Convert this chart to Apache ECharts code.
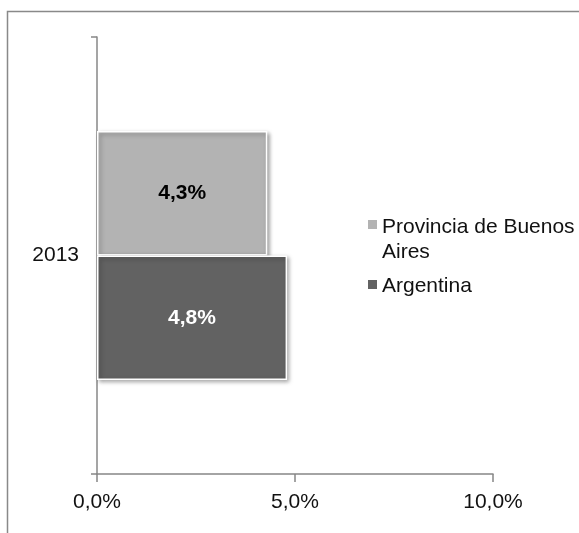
<!DOCTYPE html>
<html>
<head>
<meta charset="utf-8">
<title>2013</title>
<script src="https://cdn.jsdelivr.net/npm/echarts@6/dist/echarts.min.js"></script>
<style>
  html, body { margin: 0; padding: 0; background: #fff; }
  #chart { width: 579px; height: 533px; }
</style>
</head>
<body>
<div id="chart"></div>
<script>
  // datos (en %)
  const categories = ['2013'];
  const seriesNames = ['Provincia de Buenos Aires', 'Argentina'];
  const provinciaValues = [4.3];
  const argentinaValues = [4.8];
  const axisMin = 0;
  const axisMax = 10;
  const axisStep = 5;

  const fontFamily = '"Liberation Sans", Arial, sans-serif';

  // marcadores de leyenda: cuadrado dentro de una caja alta (9x50),
  // así el de la primera serie queda a la altura de la primera línea
  const iconTop = 'path://M0,0L0,0M0,5h9v9h-9zM0,50L0,50';
  const iconMid = 'path://M0,0L0,0M0,19h9v9h-9zM0,50L0,50';

  function pct(v) {
    return v.toFixed(1).replace('.', ',') + '%';
  }

  const chart = echarts.init(document.getElementById('chart'));
  chart.setOption({
    animation: false,
    textStyle: { fontFamily: fontFamily },
    graphic: [{
      type: 'rect',
      shape: { x: 7.5, y: 11.5, width: 640, height: 600 },
      style: { fill: 'none', stroke: '#898989', lineWidth: 1.5 },
      silent: true
    }],
    grid: {
      left: 97,
      right: 86,
      top: 37,
      bottom: 59
    },
    legend: {
      orient: 'vertical',
      left: 363,
      top: 210,
      itemWidth: 9,
      itemHeight: 50,
      itemGap: -4,
      selectedMode: false,
      itemStyle: { borderWidth: 0 },
      textStyle: {
        fontSize: 21,
        lineHeight: 25,
        color: '#111',
        fontFamily: fontFamily
      },
      formatter: function (name) {
        return name === seriesNames[0] ? 'Provincia de Buenos\nAires' : name;
      },
      data: [
        { name: seriesNames[0], icon: iconTop },
        { name: seriesNames[1], icon: iconMid }
      ]
    },
    xAxis: {
      type: 'value',
      min: axisMin,
      max: axisMax,
      interval: axisStep,
      splitLine: { show: false },
      axisLine: { show: true, lineStyle: { color: '#878787', width: 1.5 } },
      axisTick: { show: true, length: 8, lineStyle: { color: '#878787', width: 1.5 } },
      axisLabel: {
        margin: 18,
        fontSize: 21,
        color: '#111',
        formatter: pct
      }
    },
    yAxis: {
      type: 'category',
      data: categories,
      axisLine: { show: true, lineStyle: { color: '#878787', width: 1.5 } },
      axisTick: { show: true, length: 6, lineStyle: { color: '#878787', width: 1.5 } },
      axisLabel: { margin: 18, fontSize: 21, color: '#111' }
    },
    series: [{
      name: seriesNames[0],
      type: 'bar',
      data: provinciaValues,
      barGap: '0%',
      barCategoryGap: '43%',
      itemStyle: {
        color: '#b3b3b3',
        borderColor: '#fff',
        borderWidth: 1.5,
        shadowColor: 'rgba(0,0,0,0.35)',
        shadowBlur: 4,
        shadowOffsetX: 2,
        shadowOffsetY: 2
      },
      label: {
        show: true,
        position: 'inside',
        fontSize: 21,
        fontWeight: 'bold',
        color: '#000',
        formatter: function (p) { return pct(p.value); }
      }
    }, {
      name: seriesNames[1],
      type: 'bar',
      data: argentinaValues,
      barGap: '0%',
      barCategoryGap: '43%',
      itemStyle: {
        color: '#626262',
        borderColor: '#fff',
        borderWidth: 1.5,
        shadowColor: 'rgba(0,0,0,0.35)',
        shadowBlur: 4,
        shadowOffsetX: 2,
        shadowOffsetY: 2
      },
      label: {
        show: true,
        position: 'inside',
        fontSize: 21,
        fontWeight: 'bold',
        color: '#fff',
        formatter: function (p) { return pct(p.value); }
      }
    }]
  });
</script>
</body>
</html>
